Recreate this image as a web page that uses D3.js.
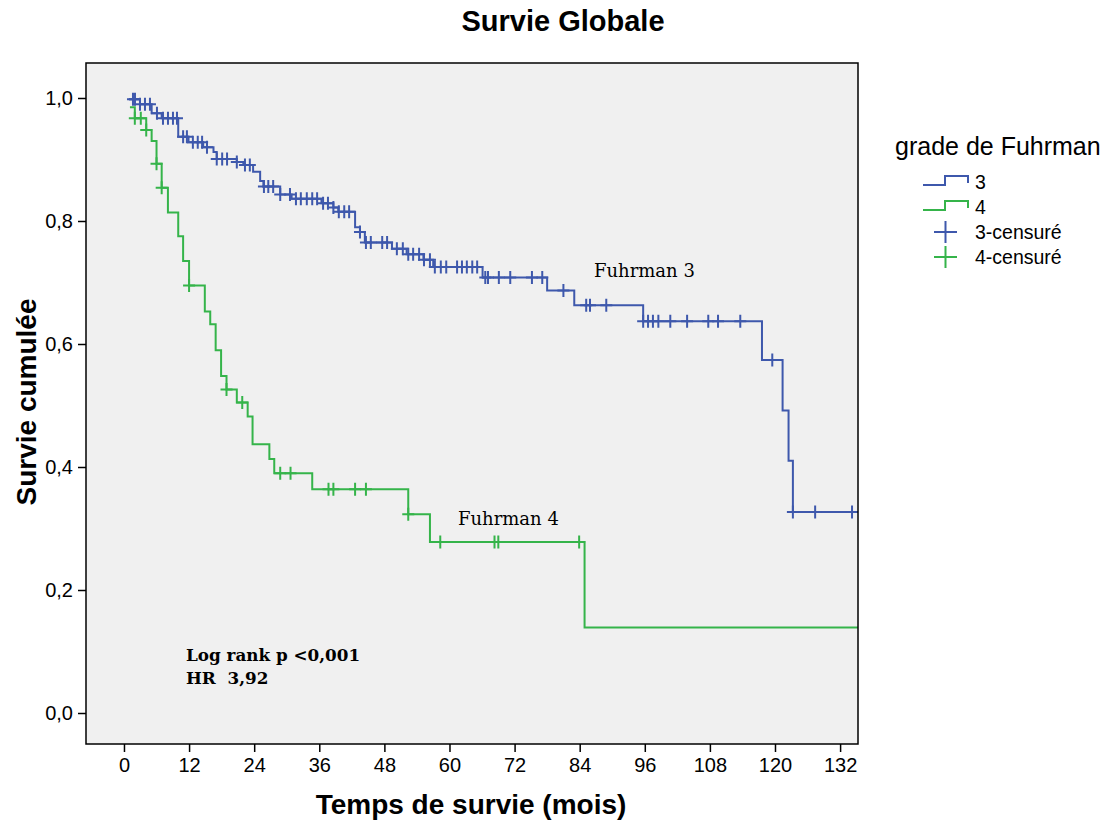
<!DOCTYPE html>
<html>
<head>
<meta charset="utf-8">
<script src="https://cdn.jsdelivr.net/npm/d3@7"></script>
<style>
  body { margin: 0; background: #fff; }
</style>
</head>
<body>
<div class="km-plot"></div>
<script>
// Kaplan-Meier steps: [mois, survie]
const grade3Steps = [
  [0.9, 0.998], [2.95, 0.990], [5.1, 0.975], [6.95, 0.967], [10.0, 0.937],
  [11.9, 0.928], [14.6, 0.920], [16.5, 0.912], [17.1, 0.901], [20.8, 0.896],
  [22.0, 0.891], [23.8, 0.880], [25.1, 0.865], [25.7, 0.856], [28.8, 0.843],
  [30.9, 0.836], [36.4, 0.829], [38.6, 0.822], [39.5, 0.815], [42.6, 0.790],
  [43.5, 0.782], [44.4, 0.765], [49.4, 0.755], [52.1, 0.746], [55.2, 0.737],
  [57.0, 0.725], [66.1, 0.708], [78.0, 0.687], [83.0, 0.663], [95.7, 0.637],
  [117.6, 0.574], [121.4, 0.492], [122.5, 0.410], [123.3, 0.327]
];
const grade3Censored = [
  1.66, 2.03, 2.95, 3.87, 4.79, 6.08, 7.19, 8.11, 9.03, 9.77, 10.9, 11.6,
  12.7, 13.6, 14.4, 15.3, 17.1, 18.1, 19.0, 20.8, 22.3, 23.2, 25.8, 26.6,
  27.5, 28.8, 30.6, 31.7, 32.6, 33.7, 34.7, 35.6, 36.7, 37.6, 38.6, 39.6,
  40.6, 41.5, 43.5, 44.6, 45.5, 47.6, 48.5, 50.3, 51.4, 52.4, 53.3, 54.4,
  55.3, 56.4, 57.3, 58.4, 59.4, 61.4, 62.3, 63.2, 64.2, 65.1, 66.6, 67.1,
  69.1, 71.2, 75.2, 77.1, 81.0, 85.2, 85.9, 88.9, 95.7, 96.6, 97.5, 98.5,
  100.7, 103.8, 107.7, 109.5, 113.6, 119.5, 123.3, 127.4, 134.2
];
const grade4Steps = [
  [1.1, 0.985], [2.0, 0.967], [4.1, 0.948], [5.1, 0.930], [6.0, 0.893],
  [6.95, 0.854], [8.1, 0.814], [10.0, 0.775], [10.9, 0.735], [12.0, 0.695],
  [14.9, 0.653], [15.9, 0.632], [16.9, 0.590], [17.9, 0.548], [18.9, 0.526],
  [20.8, 0.505], [22.8, 0.482], [23.7, 0.437], [26.8, 0.413], [27.7, 0.390],
  [34.7, 0.364], [52.4, 0.323], [56.4, 0.278], [84.9, 0.139]
];
const grade4Censored = [
  2.0, 3.1, 4.1, 6.0, 6.95, 12.0, 18.9, 21.8, 28.8, 30.7, 37.7, 38.6,
  42.6, 44.6, 52.4, 58.3, 68.3, 69.0, 83.9
];
const xTicks = [0, 12, 24, 36, 48, 60, 72, 84, 96, 108, 120, 132];
const yTicks = [0, 0.2, 0.4, 0.6, 0.8, 1.0];
const legendLabels = ["3", "4", "3-censuré", "4-censuré"];

const width = 1105;
const height = 824;
const blue = "#3e58ac";
const green = "#35b44a";
const xMax = 135.3;
const sans = "'Liberation Sans', Arial, sans-serif";
const serif = "'DejaVu Serif', 'Liberation Serif', serif";

const svg = d3.select('.km-plot')
  .append('svg')
  .attr('width', width)
  .attr('height', height)
  .style("font-family", sans)

const x = d3.scaleLinear().domain([-7, xMax]).range([86, 858]);
const y = d3.scaleLinear().domain([-0.0504, 1.0569]).range([744, 63]);

svg.append("rect")
  .attr("x", x(-7))
  .attr("y", y(1.0569))
  .attr("width", x(xMax) - x(-7))
  .attr("height", y(-0.0504) - y(1.0569))
  .attr("fill", "#f0f0f0")

// survival value at time t (right-continuous step)
function survAt(steps, t) {
  let s = steps[0][1];
  steps.forEach(p => { if (p[0] <= t + 1e-6) s = p[1]; });
  return s;
}

const line = d3.line()
  .x(d => x(d[0]))
  .y(d => y(d[1]))
  .curve(d3.curveStepAfter);

function drawGroup(steps, censored, color) {
  const pts = steps.concat([[xMax, steps[steps.length - 1][1]]]);
  svg.append("path")
    .attr("d", line(pts))
    .attr("fill", "none")
    .attr("stroke", color)
    .attr("stroke-width", 2)

  svg.selectAll(null)
    .data(censored)
    .enter()
    .append("path")
    .attr("d", d => {
      const cx = x(d), cy = y(survAt(steps, d));
      return `M${cx - 6},${cy}H${cx + 6}M${cx},${cy - 6.5}V${cy + 6.5}`;
    })
    .attr("stroke", color)
    .attr("stroke-width", 2)
}

drawGroup(grade3Steps, grade3Censored, blue);
drawGroup(grade4Steps, grade4Censored, green);

// frame
svg.append("rect")
  .attr("x", x(-7))
  .attr("y", y(1.0569))
  .attr("width", x(xMax) - x(-7))
  .attr("height", y(-0.0504) - y(1.0569))
  .attr("fill", "none")
  .attr("stroke", "#000")
  .attr("stroke-width", 1.5)

// axes
const xAxis = svg.append("g")
  .attr("transform", `translate(0,${y(-0.0504)})`)
  .call(d3.axisBottom(x).tickValues(xTicks).tickSize(8).tickSizeOuter(0).tickPadding(6))
xAxis.select(".domain").remove();
xAxis.selectAll("line").attr("stroke-width", 1.5);
xAxis.selectAll("text").style("font-size", "20px").style("font-family", sans).attr("fill", "#000");

const yAxis = svg.append("g")
  .attr("transform", `translate(${x(-7)},0)`)
  .call(d3.axisLeft(y).tickValues(yTicks).tickSize(8).tickSizeOuter(0).tickPadding(5)
    .tickFormat(d => d3.format(".1f")(d).replace(".", ",")))
yAxis.select(".domain").remove();
yAxis.selectAll("line").attr("stroke-width", 1.5);
yAxis.selectAll("text").style("font-size", "20px").style("font-family", sans).attr("fill", "#000");

// titles
svg.append("text")
  .attr("x", 563).attr("y", 31)
  .attr("text-anchor", "middle")
  .style("font-size", "29px").style("font-weight", "bold")
  .text("Survie Globale")

svg.append("text")
  .attr("x", 471).attr("y", 814)
  .attr("text-anchor", "middle")
  .style("font-size", "28px").style("font-weight", "bold")
  .text("Temps de survie (mois)")

svg.append("text")
  .attr("transform", "translate(36,402) rotate(-90)")
  .attr("text-anchor", "middle")
  .style("font-size", "28px").style("font-weight", "bold")
  .text("Survie cumulée")

// annotations
svg.append("text").attr("x", 594).attr("y", 277)
  .style("font-family", serif).style("font-size", "18px").text("Fuhrman 3")
svg.append("text").attr("x", 458).attr("y", 525)
  .style("font-family", serif).style("font-size", "18px").text("Fuhrman 4")
svg.append("text").attr("x", 186).attr("y", 661)
  .style("font-family", serif).style("font-size", "16.8px").style("font-weight", "bold")
  .text("Log rank p <0,001")
svg.append("text").attr("x", 186).attr("y", 684)
  .style("font-family", serif).style("font-size", "16.8px").style("font-weight", "bold")
  .style("white-space", "pre").text("HR  3,92")

// legend
svg.append("text")
  .attr("x", 895).attr("y", 155)
  .style("font-size", "25px")
  .text("grade de Fuhrman")

const legendColors = [blue, green, blue, green];
const legend = svg.selectAll("g.legend")
  .data(legendLabels)
  .enter()
  .append("g")
  .attr("class", "legend")
  .attr("transform", (d, i) => `translate(0,${182 + i * 25})`)

legend.append("path")
  .attr("d", (d, i) => i < 2
    ? "M923,3H945V-6H968V1"
    : "M934,0H957M945.5,-11V11")
  .attr("fill", "none")
  .attr("stroke", (d, i) => legendColors[i])
  .attr("stroke-width", 2)

legend.append("text")
  .attr("x", 975)
  .attr("dy", "0.35em")
  .style("font-size", "19.5px")
  .text(d => d)
</script>
</body>
</html>
